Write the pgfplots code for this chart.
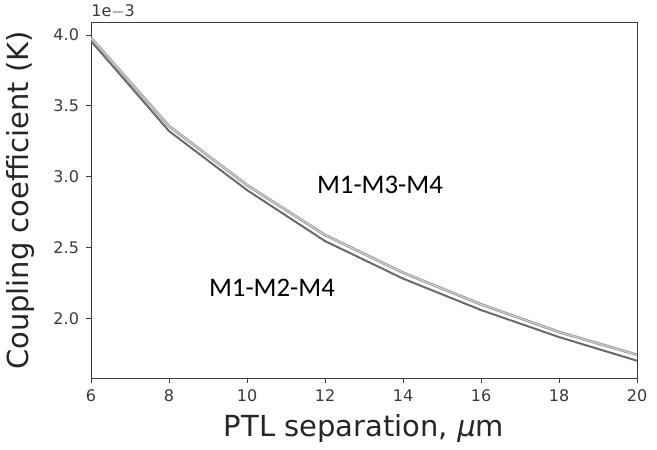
\documentclass[border=0pt]{standalone}
\usepackage{fontspec}
\setmainfont{DejaVu Sans}
\newfontfamily\calib{Carlito}
\usepackage{pgfplots}
\usepackage{pgfplotstable}
\pgfplotsset{compat=1.18}
\usetikzlibrary{calc}

\definecolor{lineA}{HTML}{9C9C9C}
\definecolor{lineAin}{HTML}{D6D6D6}
\definecolor{lineB}{HTML}{6A6A6A}
\definecolor{tickc}{HTML}{3A3A3A}

% M1-M2-M4 (lower, darker)
\pgfplotstableread{
x y
6  3.958e-3
8  3.322e-3
10 2.905e-3
12 2.545e-3
14 2.280e-3
16 2.058e-3
18 1.867e-3
20 1.700e-3
}\lowtab

% M1-M3-M4 (upper, lighter)
\pgfplotstableread{
x y
6  3.980e-3
8  3.357e-3
10 2.940e-3
12 2.588e-3
14 2.322e-3
16 2.098e-3
18 1.903e-3
20 1.742e-3
}\uptab

\begin{document}
\begin{tikzpicture}
\begin{axis}[
    scale only axis,
    width=273pt, height=177.5pt,
    xmin=6, xmax=20,
    ymin=1.578e-3, ymax=4.085e-3,
    xtick={6,8,...,20},
    ytick={2.0e-3,2.5e-3,3.0e-3,3.5e-3,4.0e-3},
    scaled y ticks=base 10:3,
    ytick scale label code/.code={1e$-$3},
    every y tick scale label/.style={at={(rel axis cs:0,1)}, anchor=south west, inner sep=0pt, yshift=2pt, font=\fontsize{8}{9}\selectfont, text=tickc},
    yticklabel style={/pgf/number format/fixed, /pgf/number format/fixed zerofill, /pgf/number format/precision=1},
    /pgf/number format/assume math mode=true,
    tick align=outside,
    major tick length=2.5pt,
    tick style={tickc, line width=0.4pt},
    xtick pos=bottom, ytick pos=left,
    ticklabel style={font=\fontsize{8}{9}\selectfont, text=tickc},
    axis line style={tickc, line width=0.5pt},
    xlabel={PTL separation, {\itshape μ}m},
    ylabel={Coupling coefficient (K)},
    label style={font=\fontsize{14.5}{17}\selectfont, text=black!85},
    xlabel style={at={(axis description cs:0.5,0)}, anchor=center, yshift=-25pt},
    ylabel style={at={(axis description cs:0,0.5)}, anchor=center, yshift=35pt},
    clip=true,
]
\addplot[lineB, line width=1pt] table[x=x, y=y] {\lowtab};
\addplot[lineA, line width=1.4pt] table[x=x, y=y] {\uptab};
\addplot[lineAin, line width=0.45pt] table[x=x, y=y] {\uptab};
\node[font=\calib\fontsize{13.4}{16}\selectfont] at (axis cs:13.41,2.94e-3) {M1-M3-M4};
\node[font=\calib\fontsize{13.4}{16}\selectfont] at (axis cs:10.64,2.213e-3) {M1-M2-M4};
\end{axis}
\pgfresetboundingbox
\path ($(current axis.south west)+(-45.5pt,-35.5pt)$) rectangle ($(current axis.north east)+(10pt,11.5pt)$);
\end{tikzpicture}
\end{document}
